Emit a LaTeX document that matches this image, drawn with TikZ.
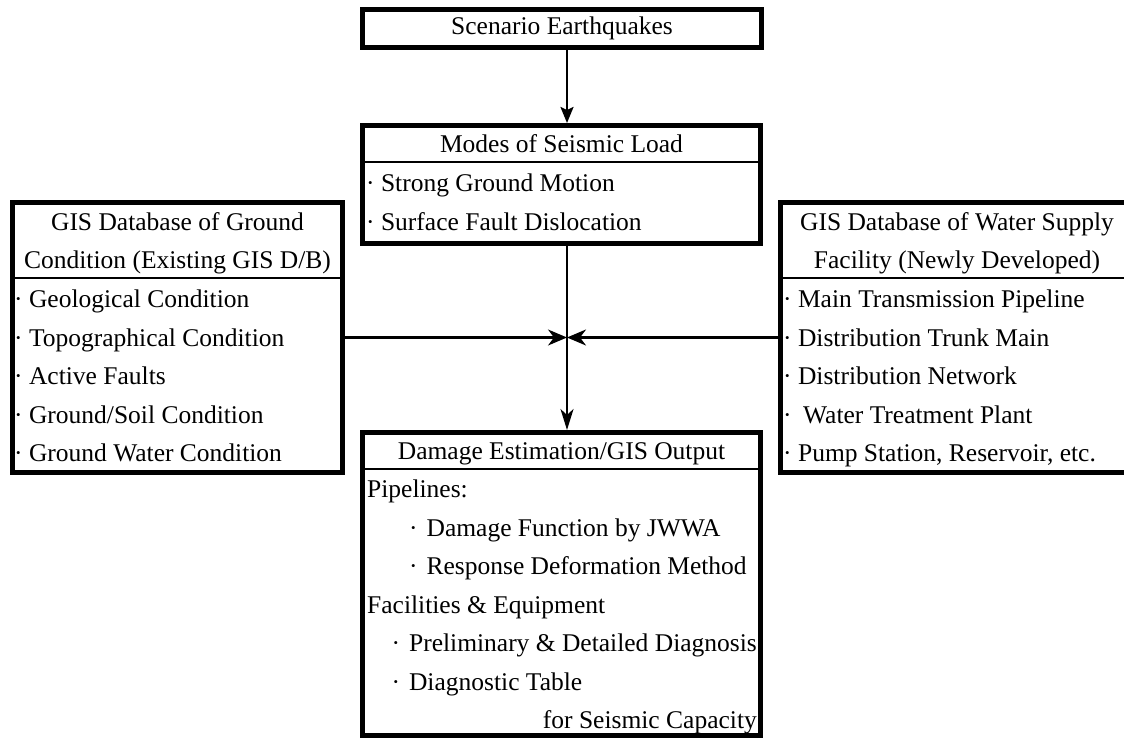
\documentclass[tikz,border=0pt]{standalone}
\usepackage{fontspec}
\setmainfont{Liberation Serif}
\usetikzlibrary{arrows.meta}
\begin{document}
\begin{tikzpicture}[x=1pt,y=-1pt,
  box/.style={draw, line width=5pt, rectangle, inner sep=0pt, outer sep=2.5pt,
    font=\fontsize{25.5pt}{38.5pt}\selectfont},
  txt/.style={inner sep=0pt, text height=17pt, text depth=0pt,
    font=\fontsize{25.5pt}{38.5pt}\selectfont},
  divider/.style={line width=2pt},
  conn/.style={line width=2.2pt},
  arrtop/.style={conn, -{Stealth[length=16pt,width=13pt,inset=3pt]}},
  arrmid/.style={conn, -{Stealth[length=19pt,width=16pt,inset=6pt]}},
  arrbot/.style={conn, -{Stealth[length=21pt,width=13pt,inset=6pt]}}
]
\useasboundingbox (0,0) rectangle (1124,738);
\clip (0,0) rectangle (1124,738);
\fill[white] (0,0) rectangle (1124,738);

% boxes
\node[box, minimum width=399pt, minimum height=38pt] (top) at (562,28.5) {Scenario Earthquakes};
\node[box, minimum width=398pt, minimum height=118pt] (mid) at (561.5,184.5) {};
\node[box, minimum width=330pt, minimum height=270pt] (left) at (177.5,337.5) {};
\node[box, minimum width=357pt, minimum height=269pt] (right) at (959,337.5) {};
\node[box, minimum width=398pt, minimum height=303pt] (out) at (561.5,584) {};

% dividers
\draw[divider] (mid.west |- 0,162) -- (mid.east |- 0,162);
\draw[divider] (left.west |- 0,278) -- (left.east |- 0,278);
\draw[divider] (right.west |- 0,278) -- (right.east |- 0,278);
\draw[divider] (out.west |- 0,469) -- (out.east |- 0,469);

% middle box text
\node[txt] (midh) at (561.5,144) {Modes of Seismic Load};
\node[txt, anchor=west] (mid1) at (366,183) {·\ Strong Ground Motion};
\node[txt, anchor=west] (mid2) at (366,221.5) {·\ Surface Fault Dislocation};

% left box text
\node[txt] (lh1) at (177.5,222) {GIS Database of Ground};
\node[txt] (lh2) at (177.5,260) {Condition (Existing GIS D/B)};
\node[txt, anchor=west] (l1) at (14,299) {·\ Geological Condition};
\node[txt, anchor=west] (l2) at (14,337.5) {·\ Topographical Condition};
\node[txt, anchor=west] (l3) at (14,376) {·\ Active Faults};
\node[txt, anchor=west] (l4) at (14,414.5) {·\ Ground/Soil Condition};
\node[txt, anchor=west] (l5) at (14,453) {·\ Ground Water Condition};

% right box text
\node[txt] (rh1) at (957,222) {GIS Database of Water Supply};
\node[txt] (rh2) at (957,260) {Facility (Newly Developed)};
\node[txt, anchor=west] (r1) at (783,299) {·\ Main Transmission Pipeline};
\node[txt, anchor=west] (r2) at (783,337.5) {·\ Distribution Trunk Main};
\node[txt, anchor=west] (r3) at (783,376) {·\ Distribution Network};
\node[txt, anchor=west] (r4) at (783,414.5) {·\hspace{0.45em}Water Treatment Plant};
\node[txt, anchor=west] (r5) at (783,453) {·\ Pump Station, Reservoir, etc.};

% bottom box text
\node[txt] (oh) at (561.5,451) {Damage Estimation/GIS Output};
\node[txt, anchor=west] (o1) at (367,489) {Pipelines:};
\node[txt, anchor=west] (o2) at (409,527.5) {·\hspace{0.35em}Damage Function by JWWA};
\node[txt, anchor=west] (o3) at (409,566) {·\hspace{0.35em}Response Deformation Method};
\node[txt, anchor=west] (o4) at (367,604.5) {Facilities \& Equipment};
\node[txt, anchor=east] (o5) at (757,643) {·\hspace{0.35em}Preliminary \& Detailed Diagnosis};
\node[txt, anchor=west] (o6) at (o5.west |- 0,681.5) {·\hspace{0.35em}Diagnostic Table};
\node[txt, anchor=east] (o7) at (757,720) {for Seismic Capacity};

% connectors
\coordinate (j) at (567,337.5);
\draw[arrtop] (top.south -| j) -- (mid.north -| j);
\draw[arrbot] (mid.south -| j) -- (out.north -| j);
\draw[arrmid] (left.east |- j) -- (j);
\draw[arrmid] (right.west |- j) -- (j);
\end{tikzpicture}
\end{document}
